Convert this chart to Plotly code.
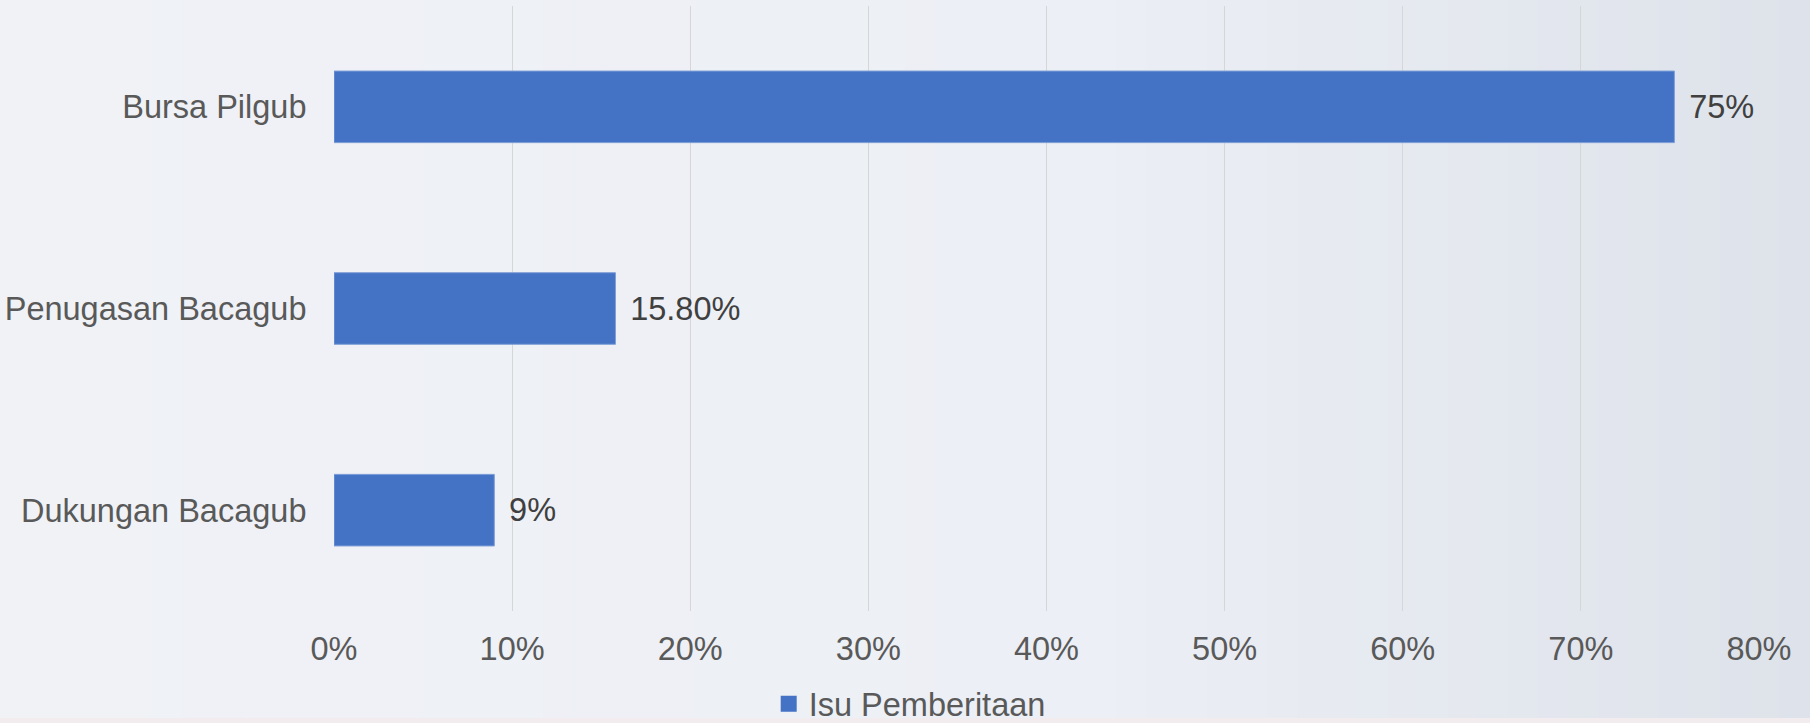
import plotly.graph_objects as go

categories = ["Dukungan Bacagub", "Penugasan Bacagub", "Bursa Pilgub"]
values = [9.0, 15.8, 75.25]
value_labels = ["9%", "15.80%", "75%"]
series_name = "Isu Pemberitaan"
tick_vals = [0, 10, 20, 30, 40, 50, 60, 70, 80]
tick_text = ["0%", "10%", "20%", "30%", "40%", "50%", "60%", "70%", "80%"]

W, H = 1810, 723
L, R, T, B = 334, 51, 6, 112
plot_w = W - L - R
plot_h = H - T - B
FONT = "Liberation Sans, Arial, sans-serif"
FS = 32.5
BAR_COLOR = "#4472C4"

fig = go.Figure()
fig.add_trace(go.Bar(
    y=categories, x=values, orientation="h",
    name=series_name, showlegend=False,
    marker=dict(color=BAR_COLOR, line=dict(color="#7F9FD8", width=1)),
    text=value_labels, textposition="outside",
    texttemplate="\u00a0\u200a%{text}",
    textfont=dict(family=FONT, size=FS, color="#404040"),
    cliponaxis=False,
))
# legend proxy (square swatch)
fig.add_trace(go.Scatter(
    x=[None], y=[None], mode="markers", name=series_name,
    marker=dict(symbol="square", size=16, color=BAR_COLOR),
    showlegend=True, hoverinfo="skip",
))

def px_to_px(px):
    return (px - L) / plot_w
def py_to_py(py):
    return (T + plot_h - py) / plot_h

# background gradient (decorative)
shapes = []
n = 60
def lerp(a, b, t):
    return int(round(a + (b - a) * t))
c0 = (240, 242, 246)
c1 = (236, 239, 245)
c2 = (222, 226, 234)
for i in range(n):
    t = i / (n - 1)
    if t < 0.6:
        tt = t / 0.6
        c = tuple(lerp(c0[k], c1[k], tt) for k in range(3))
    else:
        tt = (t - 0.6) / 0.4
        c = tuple(lerp(c1[k], c2[k], tt) for k in range(3))
    px0 = W * i / n
    px1 = W * (i + 1) / n + 1
    shapes.append(dict(
        type="rect", xref="paper", yref="paper", layer="below",
        x0=px_to_px(px0), x1=px_to_px(px1),
        y0=py_to_py(H + 10), y1=py_to_py(-10), line=dict(width=0),
        fillcolor="rgb(%d,%d,%d)" % c,
    ))
# thin bottom strip
shapes.append(dict(
    type="rect", xref="paper", yref="paper", layer="below",
    x0=px_to_px(-5), x1=px_to_px(W + 5),
    y0=py_to_py(H + 10), y1=py_to_py(718),
    line=dict(width=0), fillcolor="rgb(243,236,238)",
))

fig.update_layout(
    width=W, height=H,
    margin=dict(l=L, r=R, t=T, b=B, pad=0, autoexpand=False),
    paper_bgcolor="#eceff4",
    plot_bgcolor="rgba(0,0,0,0)",
    bargap=0.645,
    shapes=shapes,
    font=dict(family=FONT, size=FS, color="#595959"),
    showlegend=True,
    legend=dict(
        orientation="h", x=0.404, xanchor="center",
        y=py_to_py(704), yanchor="middle",
        font=dict(family=FONT, size=FS, color="#595959"),
        bgcolor="rgba(0,0,0,0)",
        itemwidth=30,
    ),
    xaxis=dict(
        range=[0, 80], tickvals=tick_vals, ticktext=tick_text,
        showgrid=True, gridcolor="#d6d6d6", gridwidth=1,
        zeroline=False, showline=False,
        ticks="outside", ticklen=9, tickcolor="rgba(0,0,0,0)",
        tickfont=dict(family=FONT, size=FS, color="#595959"),
    ),
    yaxis=dict(
        showgrid=False, zeroline=False, showline=False,
        ticks="outside", ticklen=20, tickcolor="rgba(0,0,0,0)",
        tickfont=dict(family=FONT, size=FS, color="#595959"),
    ),
)

fig.write_html(
    "out.html",
    config={"displayModeBar": False},
    post_script="document.body.style.margin='0';document.body.style.overflow='hidden';",
)
